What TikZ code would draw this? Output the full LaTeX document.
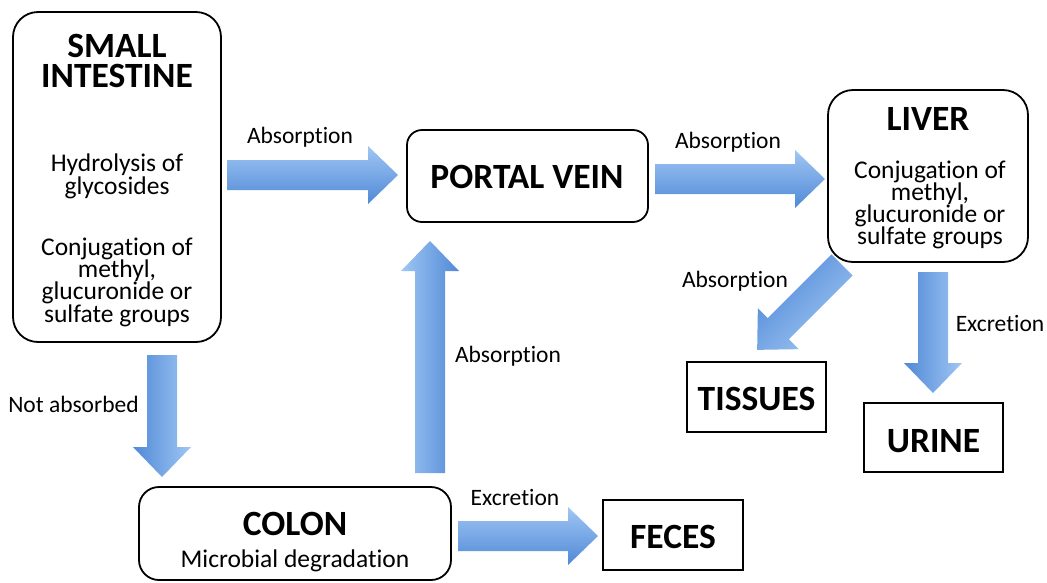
\documentclass[tikz,border=0pt]{standalone}
\usepackage{fontspec}
\setmainfont{Carlito}[Ligatures=NoCommon]
\definecolor{arrlight}{HTML}{A0C6F4}
\definecolor{arrdark}{HTML}{5089D6}
\tikzset{
  rbox/.style={draw, line width=1.8pt, rounded corners=#1, inner sep=0pt},
  sbox/.style={draw, line width=1.8pt, inner sep=0pt},
  ttl/.style={font=\fontsize{35.5}{30}\selectfont\bfseries, anchor=base, inner sep=0pt},
  bdy/.style={font=\fontsize{25.5}{22}\selectfont, anchor=base, inner sep=0pt},
  lbl/.style={font=\fontsize{23.5}{22}\selectfont, anchor=base, inner sep=0pt},
  arrshade/.style={top color=arrlight, bottom color=arrdark, draw=none}
}
\newcommand\blockarrow[3]{%
  \begin{scope}[shift={#1}, rotate=#2]
    \shade[arrshade, shading angle=#2] (0,-15) -- ({#3-30},-15) -- ({#3-30},-29) -- (#3,0)
      -- ({#3-30},29) -- ({#3-30},15) -- (0,15) -- cycle;
  \end{scope}}
\begin{document}
\begin{tikzpicture}[x=1pt,y=-1pt]
\useasboundingbox (0,0) rectangle (1047,582);
% boxes
\node[rbox=25pt, minimum width=208pt, minimum height=330pt] (si) at (117,177) {};
\node[rbox=15pt, minimum width=241pt, minimum height=92pt] (pv) at (527.5,176) {};
\node[rbox=25pt, minimum width=200pt, minimum height=172pt] (liver) at (928,176) {};
\node[rbox=20pt, minimum width=312pt, minimum height=93pt] (colon) at (295,533.5) {};
\node[sbox, minimum width=139pt, minimum height=70pt] (tissues) at (756.5,397) {};
\node[sbox, minimum width=139pt, minimum height=69pt] (urine) at (933.5,437.5) {};
\node[sbox, minimum width=140pt, minimum height=70pt] (feces) at (673,535) {};
% small intestine text
\node[ttl] (si1) at (117,57) {SMALL};
\node[ttl] (si2) at (117,87) {INTESTINE};
\node[bdy] (si3) at (117,171) {Hydrolysis of};
\node[bdy] (si4) at (117,194) {glycosides};
\node[bdy] (si5) at (117,255) {Conjugation of};
\node[bdy] (si6) at (117,277) {methyl,};
\node[bdy] (si7) at (117,299) {glucuronide or};
\node[bdy] (si8) at (117,322) {sulfate groups};
% portal vein
\node[ttl] (pvt) at (527,188) {PORTAL VEIN};
% liver
\node[ttl] (lv1) at (928,130) {LIVER};
\node[bdy] (lv2) at (930,178) {Conjugation of};
\node[bdy] (lv3) at (930,200) {methyl,};
\node[bdy] (lv4) at (930,222) {glucuronide or};
\node[bdy] (lv5) at (930,244) {sulfate groups};
% colon
\node[ttl] (co1) at (295,535) {COLON};
\node[bdy] (co2) at (295,567) {Microbial degradation};
% end boxes
\node[ttl] (tit) at (756.5,410) {TISSUES};
\node[ttl] (urt) at (933.5,452) {URINE};
\node[ttl] (fet) at (673,548) {FECES};
% arrows
\blockarrow{(227,175)}{0}{171}
\blockarrow{(655,179)}{0}{170}
\blockarrow{(842,265)}{-135}{120}
\blockarrow{(933,272)}{-90}{121}
\blockarrow{(162,355)}{-90}{122}
\blockarrow{(430,473)}{90}{232}
\blockarrow{(458,536)}{0}{140}
% labels
\node[lbl] (l1) at (300,143) {Absorption};
\node[lbl] (l2) at (728,148) {Absorption};
\node[lbl] (l3) at (735,287) {Absorption};
\node[lbl] (l4) at (1000,331) {Excretion};
\node[lbl] (l5) at (508,362) {Absorption};
\node[lbl] (l6) at (73.5,412) {Not absorbed};
\node[lbl] (l7) at (515,505) {Excretion};
\end{tikzpicture}
\end{document}
